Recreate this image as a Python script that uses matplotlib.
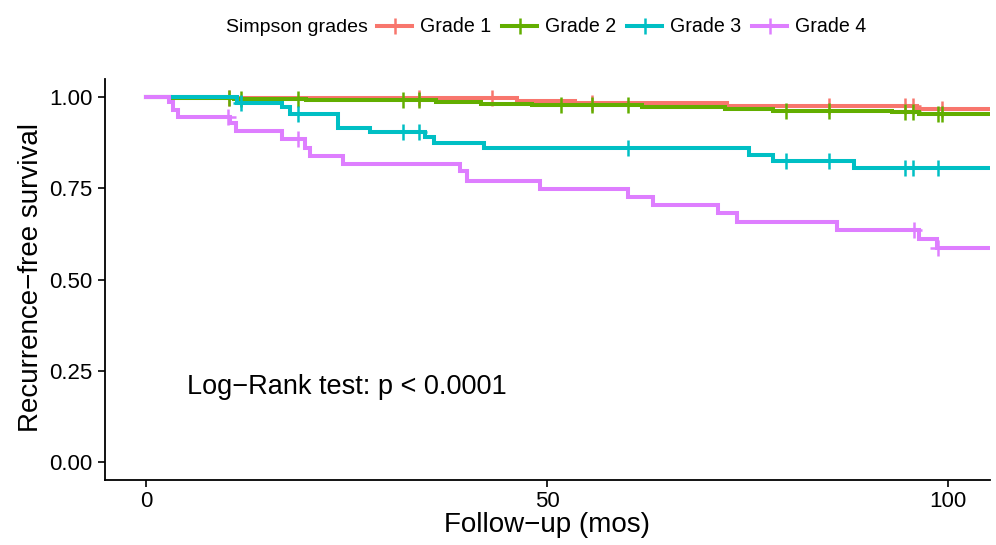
import numpy as np
import matplotlib
matplotlib.use("Agg")
import matplotlib.pyplot as plt
from matplotlib.lines import Line2D

plt.rcParams['font.family'] = ['Liberation Sans', 'DejaVu Sans']

# ---- data ----
groups = ["Grade 1", "Grade 2", "Grade 3", "Grade 4"]
colors = ["#F8766D", "#62AE00", "#00BFC4", "#DE7EFF"]
end_time = 105.2

g1_times = [0, 10.0, 46.2, 53.5, 72.4, 96.1]
g1_surv = [1.0, 0.997, 0.990, 0.984, 0.975, 0.967]
g1_cens = [10.3, 34.0, 43.1, 55.6, 85.1, 94.6, 95.6, 99.2]

g2_times = [0, 3.0, 11.0, 20.0, 36.2, 41.8, 48.1, 61.8, 72.2, 78.2, 93.0, 96.3]
g2_surv = [1.0, 0.997, 0.994, 0.992, 0.985, 0.981, 0.977, 0.972, 0.966, 0.962, 0.958, 0.952]
g2_cens = [10.3, 11.9, 19.0, 32.0, 34.0, 51.7, 55.6, 60.1, 79.8, 85.1, 94.6, 95.6, 98.7, 99.2]

g3_times = [0, 11.3, 16.9, 18.0, 24.0, 27.9, 34.8, 35.9, 42.1, 75.2, 78.2, 88.3]
g3_surv = [1.0, 0.984, 0.973, 0.953, 0.914, 0.903, 0.891, 0.873, 0.859, 0.841, 0.825, 0.805]
g3_cens = [11.9, 19.0, 32.0, 34.0, 60.1, 79.8, 85.1, 94.6, 95.6, 98.7]

g4_times = [0, 2.9, 3.4, 4.0, 10.5, 11.2, 16.9, 19.8, 20.4, 24.6, 39.1, 40.0, 49.1,
            60.1, 63.2, 71.3, 73.7, 86.1, 96.3, 98.6]
g4_surv = [1.0, 0.987, 0.964, 0.946, 0.929, 0.907, 0.884, 0.860, 0.838, 0.816, 0.796,
           0.771, 0.748, 0.725, 0.703, 0.681, 0.658, 0.636, 0.611, 0.587]
g4_cens = [10.2, 19.0, 95.7, 98.7]

x_ticks = [0, 50, 100]
y_ticks = [0.0, 0.25, 0.5, 0.75, 1.0]
y_ticklabels = ["0.00", "0.25", "0.50", "0.75", "1.00"]

series = [(g1_times, g1_surv, g1_cens), (g2_times, g2_surv, g2_cens),
          (g3_times, g3_surv, g3_cens), (g4_times, g4_surv, g4_cens)]

fig = plt.figure(figsize=(9.96, 5.45), dpi=100)
ax = fig.add_axes([105/996, 1-480/545, (990-105)/996, (480-79)/545])

LW = 2.9
handles = []
for (t, s, c), col, name in zip(series, colors, groups):
    tt = np.array(list(t) + [end_time])
    ss = np.array(list(s) + [s[-1]])
    ax.step(tt, ss, where='post', color=col, lw=LW, solid_joinstyle='miter')
    t_arr = np.array(t)
    idx = np.searchsorted(t_arr, np.array(c), side='right') - 1
    cy = np.array(s)[idx]
    ax.plot(c, cy, ls='none', marker='+', ms=12, mew=1.8, color=col)
    handles.append(Line2D([], [], color=col, lw=LW, marker='+', ms=12, mew=1.8))

ax.set_xlim(-5.1, end_time)
ax.set_ylim(-0.049, 1.049)
ax.set_xticks(x_ticks)
ax.set_yticks(y_ticks)
ax.set_yticklabels(y_ticklabels)
for sp in ['top', 'right']:
    ax.spines[sp].set_visible(False)
for sp in ['left', 'bottom']:
    ax.spines[sp].set_linewidth(1.3)
    ax.spines[sp].set_color('black')
ax.tick_params(axis='both', labelsize=16, length=5, width=1.2, color='black',
               labelcolor='black')
ax.tick_params(axis='y', pad=4)
ax.tick_params(axis='x', pad=3)
ax.set_xlabel("Follow\u2212up (mos)", fontsize=20, labelpad=0)
ax.set_ylabel("Recurrence\u2212free survival", fontsize=20)
ax.yaxis.set_label_coords(-0.069, 0.505)

ax.text(5.1, 0.205, "Log\u2212Rank test: p < 0.0001", fontsize=19.5, va='center', ha='left')

fig.text(226/996, 1-27/545, "Simpson grades", fontsize=14, va='center', ha='left')
fig.legend(handles, groups, loc='center left', bbox_to_anchor=(377/996, 1-27/545),
           ncol=4, frameon=False, fontsize=14.1, handlelength=1.8, handletextpad=0.4,
           columnspacing=0.55, borderpad=0, borderaxespad=0)

fig.savefig("out.png", dpi=100)
